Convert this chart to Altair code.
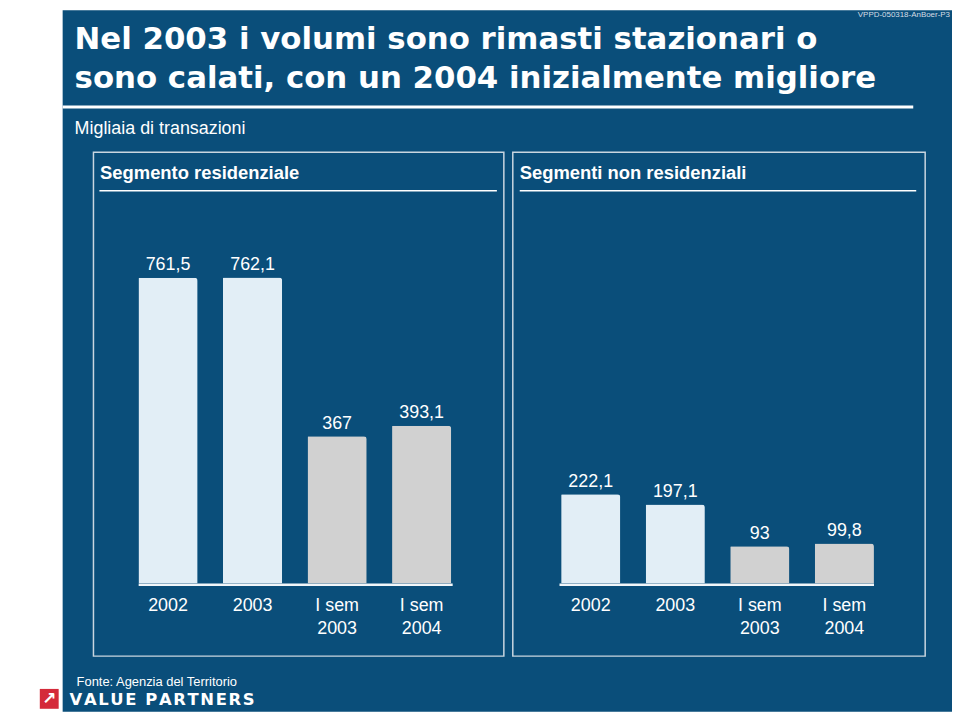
import altair as alt
import pandas as pd

# ---------------- data ----------------
segments = ["res", "res", "res", "res", "non", "non", "non", "non"]
periods = ["2002", "2003", "I sem\n2003", "I sem\n2004", "2002", "2003", "I sem\n2003", "I sem\n2004"]
values = [761.5, 762.1, 367, 393.1, 222.1, 197.1, 93, 99.8]
kinds = ["anno", "anno", "sem", "sem", "anno", "anno", "sem", "sem"]

title_lines = ["Nel 2003 i volumi sono rimasti stazionari o",
               "sono calati, con un 2004 inizialmente migliore"]
subtitle = "Migliaia di transazioni"
panel_titles = ["Segmento residenziale", "Segmenti non residenziali"]
source = "Fonte: Agenzia del Territorio"
code = "VPPD-050318-AnBoer-P3"
brand = "VALUE PARTNERS"

keys = [f"{s}|{p}" for s, p in zip(segments, periods)]
domain = keys[:4] + ["gap"] + keys[4:]

df = pd.DataFrame({
    "key": keys,
    "period": periods,
    "value": values,
    "kind": kinds,
    "label": [f"{v:g}".replace(".", ",") for v in values],
})

BLUE = "#0a4e7a"
FONT = "Liberation Sans"
one = pd.DataFrame({"a": [0]})

xscale = alt.Scale(domain=domain, range=[118.5, 884.2], paddingInner=0.3, paddingOuter=0.15)
yscale = alt.Scale(domain=[0, 1000], range=[577, 172.7])


def rect(x, x2, y, y2, **kw):
    return alt.Chart(one).mark_rect(**kw).encode(
        x=alt.value(x), x2=alt.value(x2), y=alt.value(y), y2=alt.value(y2))


def text(t, x, y, **kw):
    return alt.Chart(one).mark_text(text=t, **kw).encode(x=alt.value(x), y=alt.value(y))


layers = []
# background blue panel
layers.append(rect(55, 950, 0, 706, color=BLUE))
# code at top right
layers.append(text(code, 948, 1, align="right", baseline="top", font=FONT, fontSize=8, color="#d5dde5"))
# title
layers.append(text(title_lines[0], 67, 39, align="left", baseline="alphabetic",
                   font="DejaVu Sans", fontWeight="bold", fontSize=31, color="white"))
layers.append(text(title_lines[1], 67, 78.5, align="left", baseline="alphabetic",
                   font="DejaVu Sans", fontWeight="bold", fontSize=31, color="white"))
layers.append(rect(55, 911, 96, 99, color="white"))
layers.append(text(subtitle, 67, 125, align="left", baseline="alphabetic", font=FONT, fontSize=18, color="white"))

# panel boxes
for bx, bx2, tx, ux, ux2, t in [(86, 499, 92.7, 92, 492, panel_titles[0]),
                                (508, 923, 515, 515, 914, panel_titles[1])]:
    layers.append(rect(bx, bx2, 143, 650, fillOpacity=0, stroke="#c9d6e0", strokeWidth=1.5))
    layers.append(text(t, tx, 170, align="left", baseline="alphabetic", font=FONT,
                       fontWeight="bold", fontSize=18.5, color="white"))
    layers.append(rect(ux, ux2, 181, 182.5, color="white"))

# baselines under bars
layers.append(rect(131.5, 447.5, 577, 579.5, color="#f2f6f9"))
layers.append(rect(555, 871.5, 577, 579.5, color="#f2f6f9"))

# bars
bars = alt.Chart(df).mark_bar(cornerRadiusTopRight=3, cornerRadiusTopLeft=1).encode(
    x=alt.X("key:N", scale=xscale, axis=None),
    y=alt.Y("value:Q", scale=yscale, axis=None),
    color=alt.Color("kind:N", scale=alt.Scale(domain=["anno", "sem"], range=["#e2eef6", "#d1d1d1"]),
                    legend=None),
)
layers.append(bars)

vlabels = alt.Chart(df).mark_text(baseline="alphabetic", dy=-7.5, font=FONT, fontSize=18, color="white").encode(
    x=alt.X("key:N", scale=xscale, axis=None),
    y=alt.Y("value:Q", scale=yscale, axis=None),
    text="label:N",
)
layers.append(vlabels)

xlabels = alt.Chart(df).mark_text(baseline="top", lineBreak="\n", lineHeight=23, font=FONT,
                                  fontSize=18, color="white").encode(
    x=alt.X("key:N", scale=xscale, axis=None),
    y=alt.value(591),
    text="period:N",
)
layers.append(xlabels)

# footer
layers.append(text(source, 69, 680, align="left", baseline="alphabetic", font=FONT, fontSize=13, color="white"))
layers.append(rect(32, 51, 683, 703, color="#d42a3a"))
layers.append(text("\u2197", 41.5, 693.5, align="center", baseline="middle", font="DejaVu Sans",
                   fontWeight="bold", fontSize=17, color="white"))
layers.append(text("\u200a".join(brand), 62, 699.5, align="left", baseline="alphabetic",
                   font="DejaVu Sans", fontWeight="bold", fontSize=16.5, color="white"))

chart = alt.layer(*layers).properties(
    width=950, height=706,
    autosize=alt.AutoSizeParams(type="none"),
    padding=0,
    background="white",
).configure_view(stroke=None)

chart.save("out.html", embed_options={"renderer": "svg", "actions": False})
